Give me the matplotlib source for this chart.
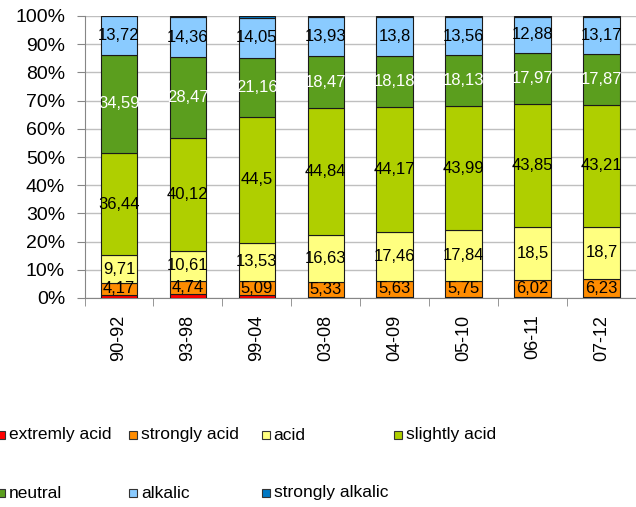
import matplotlib
matplotlib.use("Agg")
from matplotlib import pyplot as plt
from matplotlib.patches import Rectangle
import numpy as np

plt.rcParams['font.family'] = ['Liberation Sans', 'DejaVu Sans']

periods = ["90-92", "93-98", "99-04", "03-08", "04-09", "05-10", "06-11", "07-12"]

extremly_acid = [1.2, 1.4, 1.0, 0.5, 0.4, 0.4, 0.5, 0.4]
strongly_acid = [4.17, 4.74, 5.09, 5.33, 5.63, 5.75, 6.02, 6.23]
acid = [9.71, 10.61, 13.53, 16.63, 17.46, 17.84, 18.5, 18.7]
slightly_acid = [36.44, 40.12, 44.5, 44.84, 44.17, 43.99, 43.85, 43.21]
neutral = [34.59, 28.47, 21.16, 18.47, 18.18, 18.13, 17.97, 17.87]
alkalic = [13.72, 14.36, 14.05, 13.93, 13.8, 13.56, 12.88, 13.17]
strongly_alkalic = [0.17, 0.3, 0.67, 0.3, 0.36, 0.33, 0.28, 0.42]

series = [
    ("extremly acid", extremly_acid, '#FF0000', None),
    ("strongly acid", strongly_acid, '#FF8C00', 'black'),
    ("acid", acid, '#FFFF80', 'black'),
    ("slightly acid", slightly_acid, '#AFCF00', 'black'),
    ("neutral", neutral, '#5B9E1E', 'white'),
    ("alkalic", alkalic, '#8ACBFF', 'black'),
    ("strongly alkalic", strongly_alkalic, '#0078C4', None),
]

W, H = 636, 507
fig = plt.figure(figsize=(W / 100, H / 100), dpi=100)
fig.patch.set_facecolor('white')
left, right, top, bottom = 84.5, 636, 16, 298
ax = fig.add_axes([left / W, 1 - bottom / H, (right - left) / W, (bottom - top) / H])

x = np.arange(len(periods))
totals = np.sum([s[1] for s in series], axis=0)
base = np.zeros(len(periods))
for name, vals, color, lblcolor in series:
    pct = np.array(vals) / totals * 100  # 100% stacked, like the spreadsheet
    ax.bar(x, pct, width=0.53, bottom=base, color=color, edgecolor='#1a1a1a',
           linewidth=0.8, zorder=3)
    if lblcolor is not None:
        for xi, b, p, v in zip(x, base, pct, vals):
            ax.text(xi, b + p / 2, str(v).replace('.', ','), ha='center', va='center',
                    fontsize=12, color=lblcolor, zorder=4)
    base += pct

ax.set_xlim(-0.5, len(periods) - 0.5)
ax.set_ylim(0, 100)
ax.set_yticks(np.arange(0, 101, 10))
ax.set_yticklabels([str(v) + "%" for v in range(0, 101, 10)], fontsize=14)
ax.yaxis.grid(True, color='#BFBFBF', linewidth=1, zorder=0)
ax.set_xticks(x)
ax.set_xticklabels(periods, rotation=90, fontsize=13)
ax.set_xticks(np.arange(-0.5, len(periods), 1), minor=True)
ax.tick_params(axis='x', which='major', length=0, pad=12)
ax.tick_params(axis='x', which='minor', length=6, color='#868686')
ax.tick_params(axis='y', length=6, color='#868686', pad=8)
for sp in ['top', 'right']:
    ax.spines[sp].set_visible(False)
for sp in ['left', 'bottom']:
    ax.spines[sp].set_color('#868686')

# legend laid out like the spreadsheet one: 4 fixed-width columns
for i, (name, vals, color, lblcolor) in enumerate(series):
    col, row = i % 4, i // 4
    sx = -3 + 132.3 * col
    sy = 435 + 58 * row
    fig.patches.append(Rectangle((sx / W, 1 - (sy + 4) / H), 8 / W, 8 / H,
                                 transform=fig.transFigure, facecolor=color,
                                 edgecolor='#333333', linewidth=0.8))
    fig.text((sx + 12) / W, 1 - sy / H, name, ha='left', va='center', fontsize=12.5)

plt.savefig('out.png', dpi=100)
plt.close('all')
